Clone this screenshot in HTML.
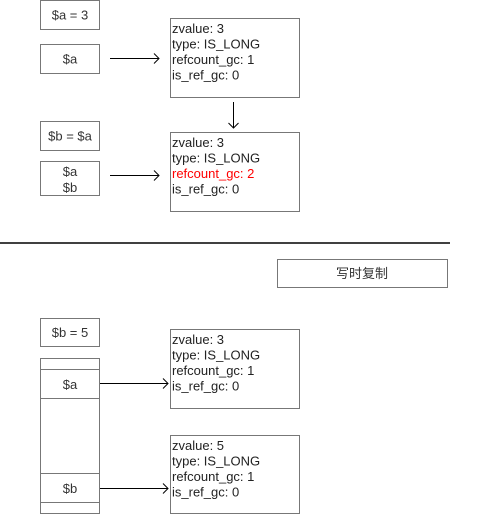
<!DOCTYPE html>
<html><head><meta charset="utf-8"><style>
body{margin:0;background:#fff;}
svg{display:block;font-family:"Liberation Sans","Noto Sans CJK SC",sans-serif;font-size:13px;}
</style></head><body>
<svg width="477" height="515" viewBox="0 0 477 515" xmlns="http://www.w3.org/2000/svg">
<g fill="#fff" stroke="#777" stroke-width="1">
<rect x="40.5" y="0.5" width="59" height="29"/>
<rect x="40.5" y="44.5" width="59" height="29"/>
<rect x="170.5" y="18.5" width="129" height="79"/>
<rect x="40.5" y="121.5" width="59" height="29"/>
<rect x="40.5" y="161.5" width="59" height="34"/>
<rect x="170.5" y="132.5" width="129" height="79"/>
<rect x="277.5" y="259.5" width="170" height="28"/>
<rect x="40.5" y="318.5" width="59" height="28"/>
<rect x="40.5" y="358.5" width="59" height="155"/>
<rect x="170.5" y="329.5" width="129" height="79"/>
<rect x="170.5" y="435.5" width="129" height="78"/>
</g>
<g stroke="#777"><line x1="40" y1="369.5" x2="100" y2="369.5"/><line x1="40" y1="398.5" x2="100" y2="398.5"/><line x1="40" y1="473.5" x2="100" y2="473.5"/><line x1="40" y1="502.5" x2="100" y2="502.5"/></g>
<g stroke="#000" fill="none" stroke-width="1">
<line x1="110" y1="58.5" x2="159" y2="58.5"/><path d="M154 53.5 L159 58.5 L154 63.5"/>
<line x1="110" y1="175.5" x2="159" y2="175.5"/><path d="M154 170.5 L159 175.5 L154 180.5"/>
<line x1="233.5" y1="102" x2="233.5" y2="128"/><path d="M228.5 123 L233.5 128 L238.5 123"/>
<line x1="100" y1="383.5" x2="168" y2="383.5"/><path d="M163 378.5 L168 383.5 L163 388.5"/>
<line x1="100" y1="488.5" x2="168" y2="488.5"/><path d="M163 483.5 L168 488.5 L163 493.5"/>
<line x1="0" y1="243" x2="450" y2="243" stroke-width="1.5"/>
</g>
<g fill="#333" text-anchor="middle">
<text x="70" y="19.5">$a = 3</text>
<text x="70" y="63.5">$a</text>
<text x="70" y="140.5">$b = $a</text>
<text x="70" y="176">$a</text>
<text x="70" y="192">$b</text>
<text x="362" y="278">写时复制</text>
<text x="70" y="337">$b = 5</text>
<text x="70" y="389">$a</text>
<text x="70" y="493">$b</text>
</g>
<g fill="#222">
<text x="172" y="33">zvalue: 3</text><text x="172" y="48.5">type: IS_LONG</text><text x="172" y="64">refcount_gc: 1</text><text x="172" y="79.5">is_ref_gc: 0</text>
<text x="172" y="147">zvalue: 3</text><text x="172" y="162.5">type: IS_LONG</text><text x="172" y="178" fill="#f00">refcount_gc: 2</text><text x="172" y="193.5">is_ref_gc: 0</text>
<text x="172" y="344">zvalue: 3</text><text x="172" y="359.5">type: IS_LONG</text><text x="172" y="375">refcount_gc: 1</text><text x="172" y="390.5">is_ref_gc: 0</text>
<text x="172" y="450">zvalue: 5</text><text x="172" y="465.5">type: IS_LONG</text><text x="172" y="481">refcount_gc: 1</text><text x="172" y="496.5">is_ref_gc: 0</text>
</g>
</svg>
</body></html>
